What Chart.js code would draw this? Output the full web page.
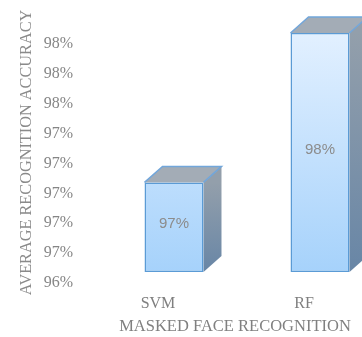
<!DOCTYPE html>
<html>
<head>
<meta charset="utf-8">
<script src="https://cdn.jsdelivr.net/npm/chart.js@4.4.1/dist/chart.umd.min.js"></script>
<style>
  html, body { margin: 0; padding: 0; background: #fff; overflow: hidden; }
  #wrap { width: 400px; height: 337px; }
</style>
</head>
<body>
<div id="wrap"><canvas id="accChart" width="400" height="337"></canvas></div>
<script>
// data
const methods = ['SVM', 'RF'];
const accuracy = [97.0, 98.0];
const yMin = 96.4;
const yMax = 98.0;
const yStep = 0.2;
const xTitle = 'MASKED FACE RECOGNITION';
const yTitle = 'AVERAGE RECOGNITION ACCURACY';

const depthX = 18, depthY = -16; // fake 3d depth of the boxes
const serif = '"Liberation Serif", "Times New Roman", serif';

function frontGradient(ctx) {
    const area = ctx.chart.chartArea;
    if (!area) return '#c6e2fd';
    const g = ctx.chart.ctx.createLinearGradient(0, area.top, 0, area.bottom);
    g.addColorStop(0, '#e2f0ff');
    g.addColorStop(1, '#a6d2fb');
    return g;
}

// draws the top and side faces of every bar, the value label and the x title
const boxes3d = {
    id: 'boxes3d',
    beforeDatasetsDraw(chart) {
        const c = chart.ctx;
        chart.getDatasetMeta(0).data.forEach(bar => {
            const left = bar.x - bar.width / 2;
            const right = bar.x + bar.width / 2;
            const top = bar.y, base = bar.base;

            // side face
            const sg = c.createLinearGradient(0, top, 0, base);
            sg.addColorStop(0, '#939fab');
            sg.addColorStop(1, '#6886a6');
            c.beginPath();
            c.moveTo(right, top);
            c.lineTo(right + depthX, top + depthY);
            c.lineTo(right + depthX, base + depthY);
            c.lineTo(right, base);
            c.closePath();
            c.fillStyle = sg;
            c.fill();

            // top face
            c.beginPath();
            c.moveTo(left, top);
            c.lineTo(left + depthX, top + depthY);
            c.lineTo(right + depthX, top + depthY);
            c.lineTo(right, top);
            c.closePath();
            c.fillStyle = '#a3acb6';
            c.fill();
            c.strokeStyle = '#72a6da';
            c.lineWidth = 1.5;
            c.beginPath();
            c.moveTo(left, top);
            c.lineTo(left + depthX, top + depthY);
            c.lineTo(right + depthX, top + depthY);
            c.lineTo(right, top);
            c.stroke();
        });
    },
    afterDatasetsDraw(chart) {
        const c = chart.ctx;
        const vals = chart.data.datasets[0].data;
        c.save();
        c.fillStyle = '#8c8c8c';
        c.font = '15px "Liberation Sans", Arial, sans-serif';
        c.textAlign = 'center';
        c.textBaseline = 'middle';
        chart.getDatasetMeta(0).data.forEach((bar, i) => {
            c.fillText(Math.round(vals[i]) + '%', bar.x, (bar.y + bar.base) / 2 - 3);
        });
        // x axis title sits a little left of the plot centre, as in the original
        const area = chart.chartArea;
        c.fillStyle = '#808080';
        c.font = '16.5px ' + serif;
        c.fillText(xTitle, (area.left + area.right) / 2 - 12, area.bottom + 55);
        c.restore();
    }
};

new Chart(document.getElementById('accChart'), {
    type: 'bar',
    data: {
        labels: methods,
        datasets: [{
            data: accuracy,
            base: yMin,
            backgroundColor: frontGradient,
            borderColor: '#5b9bd5',
            borderWidth: 1.5,
            borderSkipped: false,
            clip: false,
            barPercentage: 0.404,
            categoryPercentage: 1.0
        }]
    },
    options: {
        responsive: false,
        animation: false,
        layout: { padding: { top: 33, right: 7, left: 0, bottom: 0 } },
        plugins: {
            legend: { display: false },
            tooltip: { enabled: false }
        },
        scales: {
            x: {
                grid: { display: false, drawTicks: false },
                border: { display: false },
                afterFit: s => { s.height = 65; },
                ticks: {
                    color: '#7f7f7f',
                    font: { family: serif, size: 16 },
                    labelOffset: -16,
                    padding: 22
                }
            },
            y: {
                min: yMin,
                max: yMax,
                grid: { display: false, drawTicks: false },
                border: { display: false },
                afterFit: s => { s.width = 101; s.paddingTop = 0; s.paddingBottom = 0; },
                ticks: {
                    stepSize: yStep,
                    color: '#858585',
                    font: { family: serif, size: 16 },
                    padding: 28,
                    labelOffset: 11,
                    callback: v => Math.round(v) + '%'
                },
                title: {
                    display: true,
                    text: yTitle,
                    color: '#8a8a8a',
                    font: { family: serif, size: 16.3 },
                    padding: { top: 17, bottom: 0 }
                }
            }
        }
    },
    plugins: [boxes3d]
});
</script>
</body>
</html>
